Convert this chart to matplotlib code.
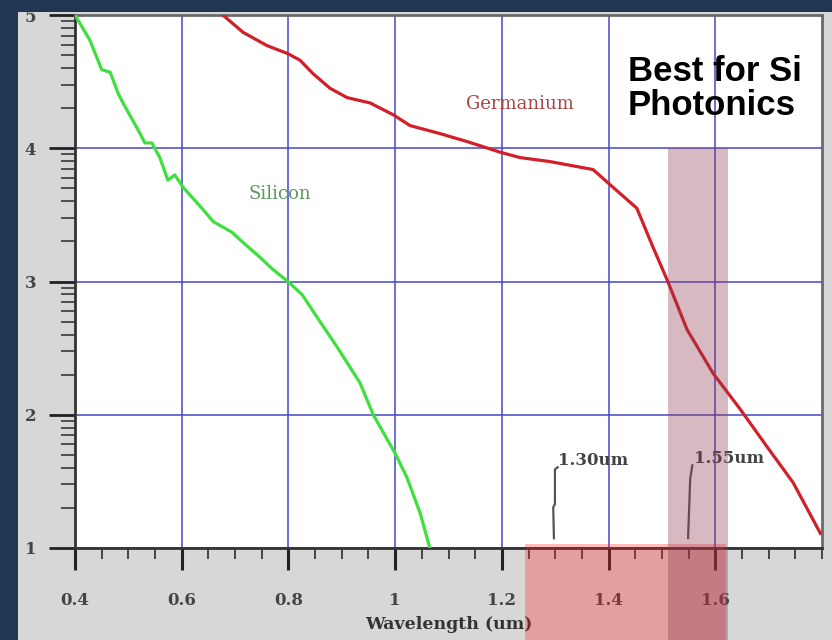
import numpy as np
import matplotlib.pyplot as plt
from matplotlib.patches import Rectangle
from matplotlib.ticker import FixedLocator, FuncFormatter, LogLocator, MultipleLocator, NullFormatter

# absorption coefficient, read as log10(alpha) vs wavelength (um)
si_wl = [0.400, 0.428, 0.450, 0.466, 0.481, 0.490, 0.522, 0.531, 0.544, 0.559,
         0.574, 0.587, 0.602, 0.640, 0.659, 0.694, 0.713, 0.747, 0.771, 0.799,
         0.826, 0.854, 0.891, 0.934, 0.959, 1.000, 1.022, 1.047, 1.065]
si_loga = [5.00, 4.81, 4.59, 4.57, 4.41, 4.34, 4.11, 4.04, 4.04, 3.93,
           3.76, 3.80, 3.71, 3.54, 3.45, 3.37, 3.30, 3.18, 3.09, 3.00,
           2.90, 2.73, 2.51, 2.24, 2.00, 1.71, 1.53, 1.26, 1.00]

ge_wl = [0.677, 0.715, 0.760, 0.799, 0.822, 0.846, 0.878, 0.910, 0.953, 0.997,
         1.028, 1.084, 1.135, 1.197, 1.234, 1.290, 1.371, 1.399, 1.453, 1.483,
         1.510, 1.547, 1.596, 1.647, 1.697, 1.746, 1.797]
ge_loga = [5.00, 4.87, 4.77, 4.71, 4.66, 4.56, 4.45, 4.38, 4.34, 4.25,
           4.17, 4.11, 4.05, 3.97, 3.93, 3.90, 3.84, 3.74, 3.55, 3.26,
           3.01, 2.64, 2.31, 2.04, 1.76, 1.49, 1.11]

xticks = [0.4, 0.6, 0.8, 1.0, 1.2, 1.4, 1.6]
xtick_labels = ['0.4', '0.6', '0.8', '1', '1.2', '1.4', '1.6']
ytick_exp = [1, 2, 3, 4, 5]

# 1.30um / 1.55um leader lines (wavelength, log10 alpha)
lead130_x = [1.3045, 1.2995, 1.2995, 1.2963, 1.2976]
lead130_y = [1.606, 1.59, 1.33, 1.305, 1.073]
lead155_x = [1.557, 1.553, 1.549]
lead155_y = [1.62, 1.52, 1.075]

band_red = (1.243, 1.620)
band_si = (1.511, 1.624)

serif = ['DejaVu Serif']

fig = plt.figure(figsize=(8.32, 6.4), dpi=100, facecolor='#d7d7d7')
# slide background strips
fig.patches.append(Rectangle((0, 1 - 12 / 640), 1, 12 / 640, transform=fig.transFigure,
                             facecolor='#213652', lw=0, zorder=0))
fig.patches.append(Rectangle((0, 0), 18 / 832, 1, transform=fig.transFigure,
                             facecolor='#213652', lw=0, zorder=0))

ax = fig.add_axes([75 / 832, 1 - 548 / 640, (822 - 75) / 832, (548 - 15) / 640])
ax.set_facecolor('white')

ax.plot(si_wl, 10.0 ** np.array(si_loga), color='#3ee03e', lw=2.3, zorder=3)
ax.plot(ge_wl, 10.0 ** np.array(ge_loga), color='#d21f28', lw=2.3, zorder=3)

ax.set_yscale('log')
ax.set_ylim(10, 1e5)
ax.set_xlim(0.4, 1.8)

ax.yaxis.set_major_locator(FixedLocator(10.0 ** np.array(ytick_exp)))
ax.yaxis.set_major_formatter(FuncFormatter(lambda v, p: '%d' % round(np.log10(v))))
ax.yaxis.set_minor_locator(LogLocator(base=10, subs=range(2, 10)))
ax.yaxis.set_minor_formatter(NullFormatter())

ax.xaxis.set_major_locator(FixedLocator(xticks))
ax.set_xticklabels(xtick_labels)
ax.xaxis.set_minor_locator(MultipleLocator(0.05))

ax.grid(True, which='major', color='#4646c8', lw=1.1, zorder=1)

ax.tick_params(axis='y', which='major', direction='out', length=19, width=2, pad=9,
               color='#222222', labelcolor='#444444', labelsize=12)
ax.tick_params(axis='y', which='minor', direction='out', length=10, width=1.3, color='#444444')
ax.tick_params(axis='x', which='major', direction='out', length=16, width=2.2, pad=16,
               color='#222222', labelcolor='#444444', labelsize=12)
ax.tick_params(axis='x', which='minor', direction='out', length=8, width=1.4, color='#444444')
for lab in ax.get_xticklabels() + ax.get_yticklabels():
    lab.set_family(serif)
    lab.set_fontweight('bold')

for s in ['left', 'bottom']:
    ax.spines[s].set_color('#333333')
    ax.spines[s].set_linewidth(2)
for s in ['top', 'right']:
    ax.spines[s].set_color('#6a6a6a')
    ax.spines[s].set_linewidth(2)

ax.set_xlabel('Wavelength (um)', family=serif, fontweight='bold', fontsize=12.5,
              color='#333333', labelpad=5)

# curve labels
ax.text(1.234, 10 ** 4.33, 'Germanium', family=serif, fontsize=13, color='#a84444',
        ha='center', va='center', zorder=4)
ax.text(0.784, 10 ** 3.66, 'Silicon', family=serif, fontsize=13, color='#5c9a5c',
        ha='center', va='center', zorder=4)

# wavelength markers
ax.plot(lead130_x, 10.0 ** np.array(lead130_y), color='#555555', lw=1.6, zorder=4)
ax.plot(lead155_x, 10.0 ** np.array(lead155_y), color='#555555', lw=1.6, zorder=4)
ax.text(1.305, 10 ** 1.66, '1.30um', family=serif, fontsize=12, fontweight='bold',
        color='#444444', ha='left', va='center', zorder=4)
ax.text(1.560, 10 ** 1.675, '1.55um', family=serif, fontsize=12, fontweight='bold',
        color='#444444', ha='left', va='center', zorder=4)

# highlight bands
ax.add_patch(Rectangle((band_red[0], -0.2), band_red[1] - band_red[0], 0.2075,
                       transform=ax.get_xaxis_transform(), clip_on=False,
                       facecolor=(1.0, 0.12, 0.12), alpha=0.3, lw=0, zorder=6))
ax.add_patch(Rectangle((band_si[0], -0.2), band_si[1] - band_si[0], 0.95,
                       transform=ax.get_xaxis_transform(), clip_on=False,
                       facecolor=(0.56, 0.22, 0.31), alpha=0.35, lw=0, zorder=6))

ax.text(1.436, 10 ** 4.70, 'Best for Si\nPhotonics', family=['Liberation Sans', 'DejaVu Sans'],
        fontsize=25, fontweight='bold', color='black', ha='left', va='top',
        linespacing=1.05, zorder=7)

fig.savefig('out.png', dpi=100, facecolor=fig.get_facecolor())
